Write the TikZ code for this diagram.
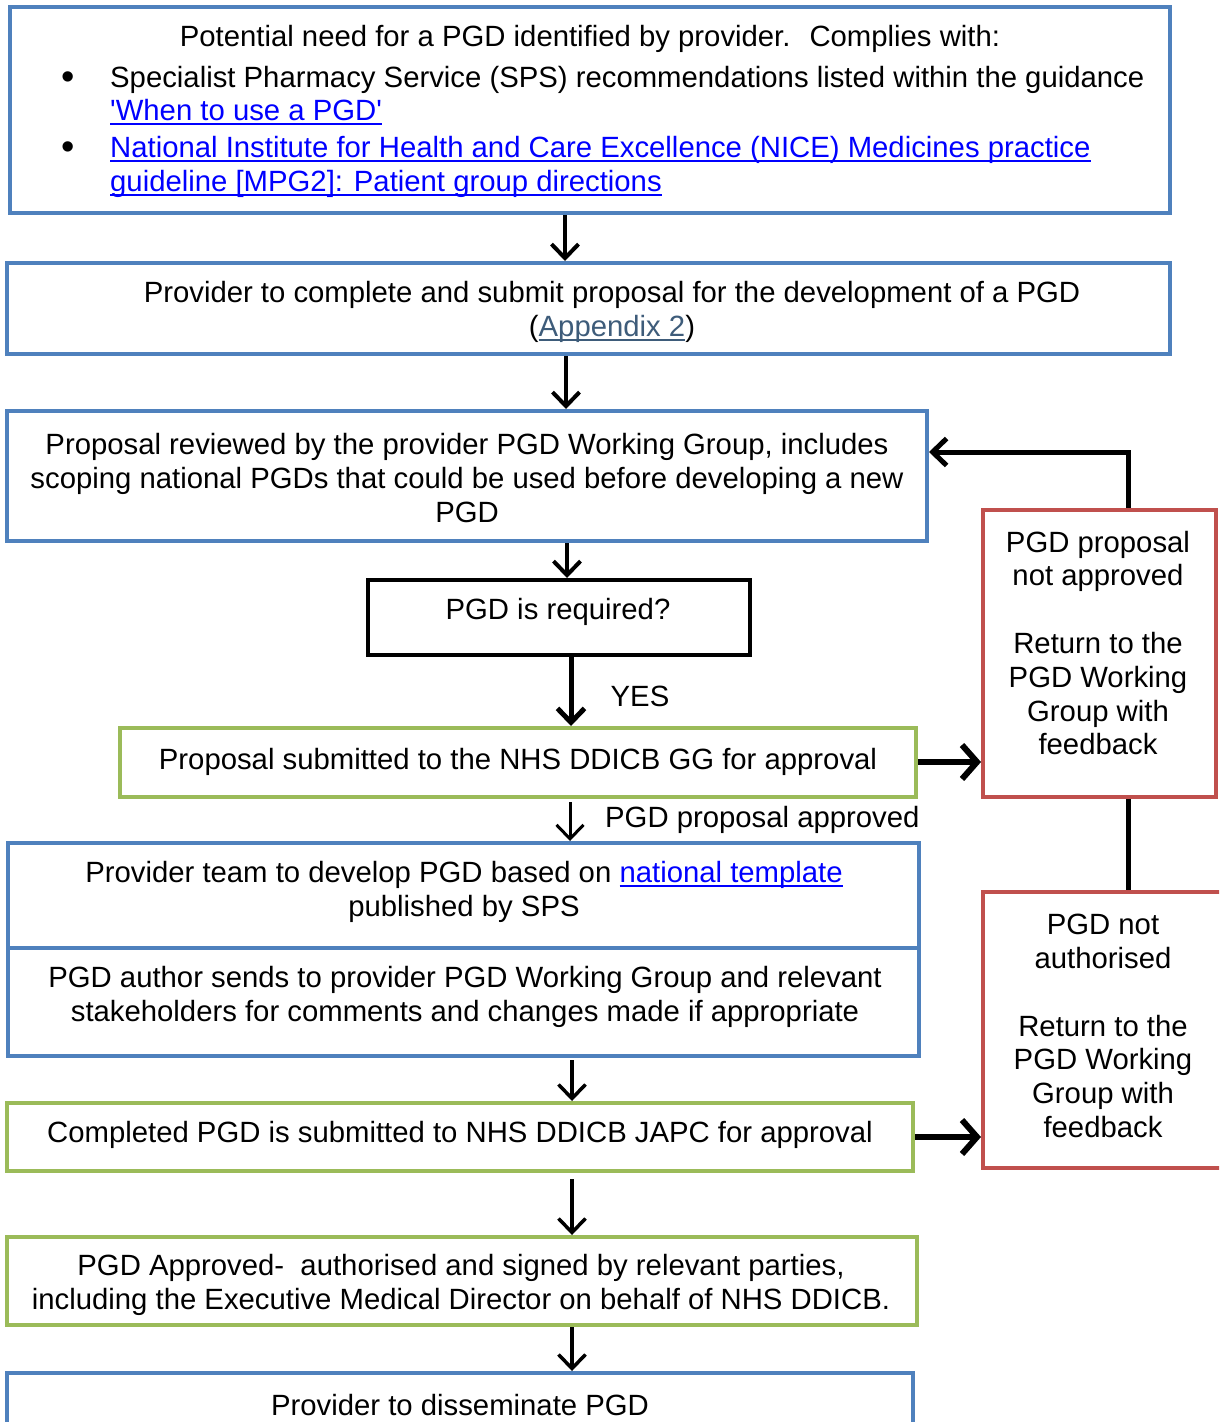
\documentclass[tikz,border=0pt]{standalone}
\usepackage{fontspec}
\setmainfont{Liberation Sans}
\usetikzlibrary{arrows.meta,calc}
\definecolor{bblue}{RGB}{79,129,189}
\definecolor{bgreen}{RGB}{155,187,89}
\definecolor{bred}{RGB}{192,80,77}
\definecolor{lblue}{RGB}{0,0,255}
\definecolor{slate}{RGB}{62,92,122}
\newcommand\fs{\fontsize{29.3}{33.8}\selectfont}
\newcommand\myul[1]{\leavevmode\setbox0\hbox{#1}\rlap{\rule[-4.5pt]{\wd0}{1.7pt}}\box0}
\newcommand\lnk[1]{{\color{lblue}\myul{#1}}}
\begin{document}
\begin{tikzpicture}[x=1pt,y=-1pt,
  boxb/.style={draw=bblue, line width=4pt, inner sep=0pt},
  boxg/.style={draw=bgreen, line width=4pt, inner sep=0pt},
  boxr/.style={draw=bred, line width=4pt, inner sep=0pt},
  boxk/.style={draw=black, line width=4pt, inner sep=0pt},
  txt/.style={font=\fs, align=center, inner sep=0pt},
  arr/.style={line width=4pt, -{Straight Barb[length=14pt,width=27pt]}},
  arrbig/.style={line width=6pt, -{Straight Barb[length=15pt,width=34pt]}},
  plain/.style={line width=5pt}]
\useasboundingbox (0,0) rectangle (1219,1422);
\clip (0,0) rectangle (1219,1422);
\fill[white] (0,0) rectangle (1219,1422);

% boxes
\node[boxb, minimum width=1160pt, minimum height=206pt] (b1) at (590,110) {};
\node[boxb, minimum width=1163pt, minimum height=91pt] (b2) at (588.5,308.5) {};
\node[boxb, minimum width=920pt, minimum height=130pt] (b3) at (467,476) {};
\node[boxk, minimum width=382pt, minimum height=75pt] (b4) at (559,617.5) {};
\node[boxg, minimum width=796pt, minimum height=69pt] (b5) at (518,762.5) {};
\node[boxb, minimum width=911pt, minimum height=105pt] (b6) at (463.5,895.5) {};
\node[boxb, minimum width=911pt, minimum height=108pt] (b7) at (463.5,1002) {};
\node[boxg, minimum width=906pt, minimum height=68pt] (b8) at (460,1137) {};
\node[boxg, minimum width=910pt, minimum height=88pt] (b9) at (462,1281) {};
\node[boxb, minimum width=906pt, minimum height=90pt] (b10) at (460,1418) {};
\node[boxr, minimum width=233pt, minimum height=287pt] (r1) at (1099.5,653.5) {};
\node[boxr, minimum width=242pt, minimum height=276pt] (r2) at (1104,1030) {};

% texts
\node[txt, anchor=base] (t1) at (590,46) {Potential need for a PGD identified by provider.~ Complies with:};
\node[txt, anchor=base, font=\fontsize{38}{38}\selectfont] (bu1) at (68,89) {•};
\node[txt, anchor=base, font=\fontsize{38}{38}\selectfont] (bu2) at (68,159) {•};
\node[txt, anchor=base west] (t2) at (110,87) {Specialist Pharmacy Service (SPS) recommendations listed within the guidance};
\node[txt, anchor=base west] (t3) at (110,120) {\lnk{\textquotesingle When to use a PGD\textquotesingle}};
\node[txt, anchor=base west] (t4) at (110,157) {\lnk{National Institute for Health and Care Excellence (NICE) Medicines practice}};
\node[txt, anchor=base west] (t5) at (110,191) {\lnk{guideline [MPG2]: Patient group directions}};

\node[txt] (tb2) at (612,312) {Provider to complete and submit proposal for the development of a PGD\\({\color{slate}\myul{Appendix 2}})};
\node[txt] (tb3) at (467,478) {Proposal reviewed by the provider PGD Working Group, includes\\scoping national PGDs that could be used before developing a new\\PGD};
\node[txt] (tb4) at (558,612) {PGD is required?};
\node[txt] (tb5) at (518,762) {Proposal submitted to the NHS DDICB GG for approval};
\node[txt] (tb6) at (464,892) {Provider team to develop PGD based on \lnk{national template}\\published by SPS};
\node[txt] (tb7) at (465,997) {PGD author sends to provider PGD Working Group and relevant\\stakeholders for comments and changes made if appropriate};
\node[txt] (tb8) at (460,1135) {Completed PGD is submitted to NHS DDICB JAPC for approval};
\node[txt] (tb9) at (461,1285) {PGD Approved-~ authorised and signed by relevant parties,\\including the Executive Medical Director on behalf of NHS DDICB.};
\node[txt] (tb10) at (460,1405) {Provider to disseminate PGD};
\node[txt] (tr1) at (1098,643) {PGD proposal\\not approved\\[33.8pt]Return to the\\PGD Working\\Group with\\feedback};
\node[txt] (tr2) at (1103,1026) {PGD not\\authorised\\[33.8pt]Return to the\\PGD Working\\Group with\\feedback};

\node[txt] (yes) at (640,696) {YES};
\node[txt, anchor=west] (ok) at (605,820) {PGD proposal approved};

% connector x positions
\coordinate (x1) at (565,0);
\coordinate (x2) at (566,0);
\coordinate (x3) at (567,0);
\coordinate (x4) at (571,0);
\coordinate (x5) at (570,0);
\coordinate (x6) at (572,0);
\coordinate (xr) at (1128,0);
\coordinate (yl) at (0,452);
\coordinate (y5) at (0,762);
\coordinate (y8) at (0,1137);

\draw[arr] (b1.south -| x1) -- (b2.north -| x1);
\draw[arr] (b2.south -| x2) -- (b3.north -| x2);
\draw[arr] (b3.south -| x3) -- (b4.north -| x3);
\draw[arr, line width=5pt] (b4.south -| x4) -- (b5.north -| x4);
\draw[arr, line width=3pt] ($(b5.south -| x5)+(0,3)$) -- (b6.north -| x5);
\draw[arr, line width=3.5pt] ($(b7.south -| x6)+(0,2)$) -- (b8.north -| x6);
\draw[arr, line width=3.5pt] ($(b8.south -| x6)+(0,6)$) -- (b9.north -| x6);
\draw[arr, line width=3.5pt] (b9.south -| x6) -- (b10.north -| x6);
\draw[arrbig] (b5.east |- y5) -- (r1.west |- y5);
\draw[arrbig] (b8.east |- y8) -- (r2.west |- y8);
\draw[arr, line width=5pt] (r1.north -| xr) -- (xr |- yl) -- (b3.east |- yl);
\draw[plain] (r1.south -| xr) -- (r2.north -| xr);
\end{tikzpicture}
\end{document}
